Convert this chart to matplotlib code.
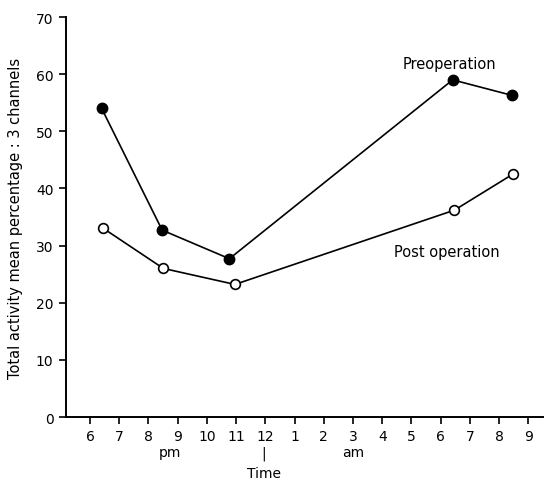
import matplotlib
matplotlib.use("Agg")
import matplotlib.pyplot as plt

# hours after 6 pm
tick_pos = list(range(16))
tick_labels = ["6", "7", "8", "9", "10", "11", "12", "1", "2", "3", "4", "5", "6", "7", "8", "9"]

pre_x = [0.4, 2.47, 4.77, 12.41, 14.43]
pre_y = [54, 32.7, 27.7, 59, 56.3]

post_x = [0.46, 2.51, 4.96, 12.47, 14.47]
post_y = [33, 26, 23.2, 36.2, 42.5]

plt.rcParams['font.family'] = ['DejaVu Sans']

fig = plt.figure(figsize=(5.46, 4.85), dpi=100)
ax = fig.add_axes([66/546, 1 - 418/485, (543 - 66)/546, 400/485])

ax.plot(pre_x, pre_y, color='black', lw=1.2, marker='o', ms=7.5,
        mfc='black', mec='black')
ax.plot(post_x, post_y, color='black', lw=1.2, marker='o', ms=7,
        mfc='white', mec='black', mew=1.2)

ax.set_xlim(-0.82, 15.5)
ax.set_ylim(0, 70)
ax.set_xticks(tick_pos)
ax.set_xticklabels(tick_labels)
ax.set_yticks(range(0, 71, 10))
ax.tick_params(direction='out', length=5, width=1.2, labelsize=10, colors='black')
ax.tick_params(axis='x', pad=3.5)
ax.tick_params(axis='y', pad=4)

for s in ['top', 'right']:
    ax.spines[s].set_visible(False)
for s in ['left', 'bottom']:
    ax.spines[s].set_linewidth(1.4)

ax.set_ylabel("Total activity mean percentage : 3 channels", fontsize=10.5, labelpad=9)

fig.text(170/546, 1 - 453/485, "pm", ha='center', va='center', fontsize=10)
fig.text(264/546, 1 - 454/485, "|", ha='center', va='center', fontsize=10)
fig.text(353/546, 1 - 453/485, "am", ha='center', va='center', fontsize=10)
fig.text(264/546, 1 - 474/485, "Time", ha='center', va='center', fontsize=10)

ax.text(12.29, 61.8, "Preoperation", ha='center', va='center', fontsize=10.5)
ax.text(12.2, 29, "Post operation", ha='center', va='center', fontsize=10.5)

fig.savefig("out.png", dpi=100)
